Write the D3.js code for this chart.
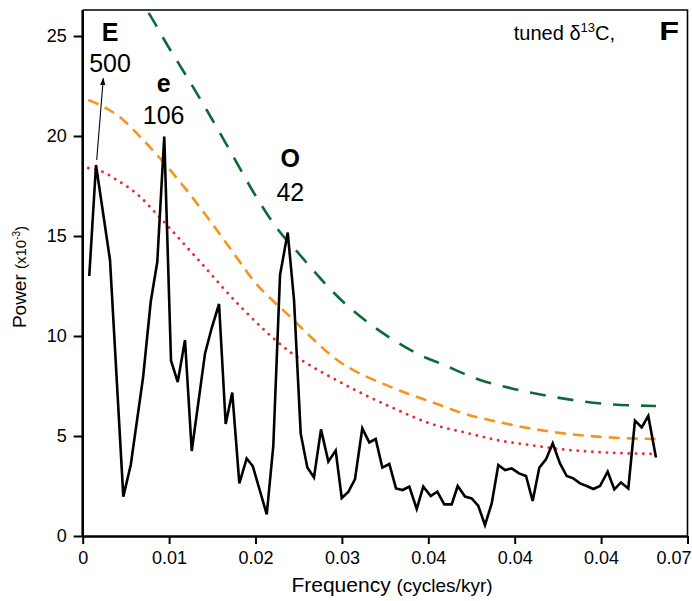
<!DOCTYPE html>
<html>
<head>
<meta charset="utf-8">
<script src="https://cdn.jsdelivr.net/npm/d3@7"></script>
<style>
  html, body { margin: 0; padding: 0; background: #fff; }
  svg { display: block; }
  text { font-family: "Liberation Sans", Arial, Helvetica, sans-serif; fill: #000; }
</style>
</head>
<body>
<svg id="chart" width="692" height="601"></svg>
<script>
// ---------------- data ----------------
const freq = [0.00076,0.00154,0.00316,0.0047,0.00556,0.0070,0.00787,0.00863,0.00944,0.01022,
  0.0110,0.01184,0.01262,0.01416,0.01493,0.01578,0.01655,0.01731,0.01813,0.01898,
  0.01968,0.0213,0.02206,0.02284,0.02373,0.02446,0.02523,0.026,0.02677,0.02758,
  0.02843,0.02928,0.02998,0.03074,0.03152,0.03236,0.03317,0.03391,0.03468,0.03549,
  0.03626,0.03704,0.0378,0.03866,0.03942,0.04028,0.04104,0.04185,0.04271,0.0434,
  0.04425,0.04502,0.04579,0.04656,0.04734,0.0481,0.04888,0.04965,0.0505,0.05131,
  0.05208,0.05285,0.05362,0.0544,0.05524,0.05602,0.05678,0.05756,0.05833,0.0591,
  0.05987,0.06076,0.06153,0.0623,0.06315,0.06392,0.0647,0.06546,0.06635];
const power = [13.0,18.55,13.8,1.97,3.55,7.97,11.7,13.7,19.97,8.77,
  7.7,9.8,4.25,9.13,10.4,11.6,5.6,7.17,2.63,3.88,
  3.5,1.08,4.5,13.05,15.17,11.8,5.13,3.43,2.93,5.33,
  3.72,4.27,1.9,2.2,2.85,5.38,4.68,4.85,3.42,3.6,
  2.38,2.3,2.47,1.35,2.47,2.0,2.22,1.58,1.58,2.5,
  1.97,1.88,1.5,0.55,1.63,3.55,3.3,3.38,3.13,3.0,
  1.75,3.42,3.83,4.63,3.63,3.0,2.88,2.63,2.5,2.35,
  2.5,3.22,2.33,2.68,2.38,5.77,5.43,6.0,3.93];

// confidence-level curves
const redFreq = [0.00065,0.00238,0.00394,0.0047,0.00663,0.00856,0.01319,0.0182,0.024,0.02978,
  0.03557,0.04135,0.04405,0.04792,0.05177,0.05563,0.05949,0.0634,0.06635];
const redPow = [18.4,18.2,17.8,17.6,16.97,16.1,13.9,11.5,9.2,7.7,
  6.47,5.47,5.2,4.8,4.55,4.33,4.2,4.13,4.1];
const orangeFreq = [0.00065,0.002,0.0047,0.00663,0.00933,0.01146,0.0182,0.01936,0.024,0.02978,
  0.03557,0.04135,0.04405,0.04792,0.05177,0.05563,0.05949,0.0634,0.06635];
const orangePow = [21.8,21.55,20.8,19.97,18.7,17.6,13.7,13.0,10.97,8.7,
  7.47,6.55,6.13,5.72,5.38,5.13,4.97,4.88,4.85];
const greenFreq = [0.00065,0.00238,0.0047,0.00741,0.00972,0.01204,0.01435,0.01743,0.01975,0.02264,
  0.02515,0.02747,0.03016,0.03325,0.03634,0.03942,0.04116,0.046,0.04965,0.0533,
  0.05718,0.06065,0.06635];
const greenPow = [29.0,28.6,27.7,26.3,24.6,22.97,21.3,18.97,17.2,15.3,
  14.05,12.9,11.7,10.6,9.7,8.97,8.67,7.8,7.38,7.05,
  6.77,6.6,6.5];

const xTicks = [0,0.01,0.02,0.03,0.04,0.05,0.06,0.07];
const xTickLabels = ["0","0.01","0.02","0.03","0.04","0.04","0.04","0.07"];
const yTicks = [0,5,10,15,20,25];

const peakLetters = ["E","e","O"];
const peakPeriods = ["500","106","42"];

// ---------------- layout ----------------
const svg = d3.select("#chart");
const W = 692;
const X0 = 82.7, X1 = 687.5, Y0 = 536, Y1 = 10;
const x = d3.scaleLinear().domain([0, 0.07]).range([X0, X1]);
const y = d3.scaleLinear().domain([0, 26.3]).range([Y0, Y1]);

svg.append("rect").attr("width", W).attr("height", 601).attr("fill", "#fff");

const defs = svg.append("defs");
defs.append("clipPath").attr("id", "plotclip")
  .append("rect").attr("x", X0).attr("y", Y1).attr("width", X1 - X0).attr("height", Y0 - Y1);
defs.append("marker").attr("id", "arrowhead")
  .attr("viewBox", "0 0 10 10").attr("refX", 9).attr("refY", 5)
  .attr("markerWidth", 7).attr("markerHeight", 7).attr("orient", "auto")
  .append("path").attr("d", "M0,1.5 L10,5 L0,8.5 Z").attr("fill", "#000");

// frame (top and right)
svg.append("path")
  .attr("d", `M${X0},${Y1} H${X1} V${Y0}`)
  .attr("fill", "none").attr("stroke", "#000").attr("stroke-width", 1.6);

const plot = svg.append("g").attr("clip-path", "url(#plotclip)");

function curveLine(fs, ps, curve) {
  return d3.line().x((d, i) => x(fs[i])).y((d, i) => y(ps[i])).curve(curve)(fs);
}

plot.append("path").attr("d", curveLine(greenFreq, greenPow, d3.curveMonotoneX))
  .attr("fill", "none").attr("stroke", "#0d6a37").attr("stroke-width", 2.6)
  .attr("stroke-dasharray", "16,12");
plot.append("path").attr("d", curveLine(orangeFreq, orangePow, d3.curveMonotoneX))
  .attr("fill", "none").attr("stroke", "#f7941d").attr("stroke-width", 2.6)
  .attr("stroke-dasharray", "11,7");
plot.append("path").attr("d", curveLine(redFreq, redPow, d3.curveMonotoneX))
  .attr("fill", "none").attr("stroke", "#ee2a2a").attr("stroke-width", 2.8)
  .attr("stroke-linecap", "round").attr("stroke-dasharray", "0.1,7.2");

plot.append("path").attr("d", curveLine(freq, power, d3.curveLinear))
  .attr("fill", "none").attr("stroke", "#000").attr("stroke-width", 2.6)
  .attr("stroke-linejoin", "miter");

// axes
const xAxis = svg.append("g").attr("transform", `translate(0,${Y0})`)
  .call(d3.axisBottom(x).tickValues(xTicks).tickFormat((d, i) => xTickLabels[i])
    .tickSizeInner(8).tickSizeOuter(0).tickPadding(7));
xAxis.select(".domain").attr("stroke-width", 2.6);
xAxis.selectAll(".tick line").attr("stroke-width", 2);
xAxis.selectAll(".tick text").attr("font-size", 18).attr("font-family", "Liberation Sans, Arial, sans-serif")
  .attr("fill", "#000");
// keep the last label inside the picture, as in the reference
xAxis.selectAll(".tick").filter((d, i) => i === xTicks.length - 1).select("text")
  .attr("text-anchor", "end").attr("dx", W - 1 - X1);

const yAxis = svg.append("g").attr("transform", `translate(${X0},0)`)
  .call(d3.axisLeft(y).tickValues(yTicks).tickSizeInner(9).tickSizeOuter(0).tickPadding(7));
yAxis.select(".domain").attr("stroke-width", 2.6)
  .attr("d", `M0,${Y0}V${Y1}`);
yAxis.selectAll(".tick line").attr("stroke-width", 2);
yAxis.selectAll(".tick text").attr("font-size", 18).attr("font-family", "Liberation Sans, Arial, sans-serif")
  .attr("fill", "#000");

// axis titles
const xt = svg.append("text").attr("x", 392).attr("y", 592).attr("text-anchor", "middle");
xt.append("tspan").attr("font-size", 21).text("Frequency ");
xt.append("tspan").attr("font-size", 19).text("(cycles/kyr)");

const yt = svg.append("text").attr("transform", "translate(26,277) rotate(-90)").attr("text-anchor", "middle");
yt.append("tspan").attr("font-size", 19).text("Power ");
yt.append("tspan").attr("font-size", 15).text("(x10");
yt.append("tspan").attr("font-size", 10).attr("dy", -6).text("-3");
yt.append("tspan").attr("font-size", 15).attr("dy", 6).text(")");

// title
const tt = svg.append("text").attr("x", 615).attr("y", 40).attr("text-anchor", "end");
tt.append("tspan").attr("font-size", 20).text("tuned δ");
tt.append("tspan").attr("font-size", 13).attr("dy", -8).text("13");
tt.append("tspan").attr("font-size", 20).attr("dy", 8).text("C,");
svg.append("text").attr("transform", "translate(679,40) scale(1.3,1)").attr("text-anchor", "end")
  .attr("font-size", 25).attr("font-weight", "bold").text("F");

// peak labels
const labelX = [110, 163.6, 290.3];
const letterY = [40.7, 91.7, 167.3];
const periodY = [71.7, 124, 200.7];
peakLetters.forEach((t, i) => {
  svg.append("text").attr("x", labelX[i]).attr("y", letterY[i]).attr("text-anchor", "middle")
    .attr("font-size", 25).attr("font-weight", "bold").text(t);
  svg.append("text").attr("x", labelX[i]).attr("y", periodY[i]).attr("text-anchor", "middle")
    .attr("font-size", 25).text(peakPeriods[i]);
});

// arrow from E peak to its label
svg.append("line")
  .attr("x1", x(freq[1]) + 0.7).attr("y1", y(power[1]) - 5)
  .attr("x2", 103.3).attr("y2", 78.3)
  .attr("stroke", "#000").attr("stroke-width", 1.1)
  .attr("marker-end", "url(#arrowhead)");
</script>
</body>
</html>
